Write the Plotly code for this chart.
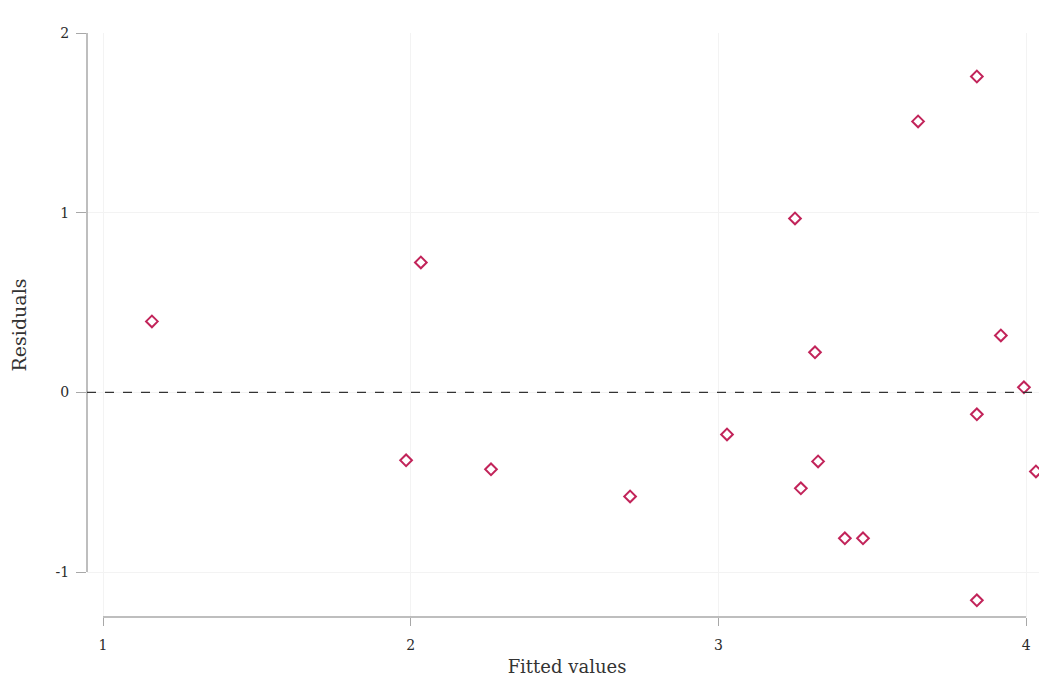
import plotly.graph_objects as go

fitted = [1.159, 2.033, 1.985, 2.261, 2.713, 3.028, 3.249, 3.268, 3.314, 3.324,
          3.411, 3.470, 3.649, 3.840, 3.840, 3.840, 3.918, 3.993, 4.032]
residuals = [0.395, 0.723, -0.378, -0.428, -0.579, -0.234, 0.968, -0.534, 0.223, -0.384,
             -0.812, -0.812, 1.508, 1.758, -0.122, -1.157, 0.317, 0.028, -0.440]
x_ticks = [1, 2, 3, 4]
x_labels = ["1", "2", "3", "4"]
y_ticks = [-1, 0, 1, 2]
y_labels = ["-1", "0", "1", "2"]

FONT = "DejaVu Serif"
fig = go.Figure()
fig.add_trace(go.Scatter(
    x=fitted, y=residuals, mode="markers", cliponaxis=False,
    marker=dict(symbol="diamond-open", size=9, color="#c2245a", line=dict(width=2, color="#c2245a")),
    showlegend=False,
))

axis_color = "#a8a8a8"
fig.update_layout(
    width=1039, height=680,
    margin=dict(l=79, r=0, t=25, b=71),
    paper_bgcolor="white", plot_bgcolor="white",
    font=dict(family=FONT, color="#333333"),
    xaxis=dict(range=[0.948, 4.068], tickvals=x_ticks, ticktext=x_labels, ticks="outside", ticklen=8,
               tickcolor=axis_color, showline=False, zeroline=False, automargin=False,
               showgrid=True, gridcolor="#f3f3f3", gridwidth=1, ticklabelstandoff=7,
               tickfont=dict(size=14, family=FONT, color="#2a2a2a"),
               title=dict(text="Fitted values", font=dict(size=18, family=FONT, color="#333333"), standoff=8)),
    yaxis=dict(range=[-1.25, 2.0], tickvals=y_ticks, ticktext=y_labels, ticks="outside", ticklen=10,
               tickcolor=axis_color, showline=False, zeroline=False, automargin=False,
               showgrid=True, gridcolor="#f3f3f3", gridwidth=1, ticklabelstandoff=4,
               tickfont=dict(size=14, family=FONT, color="#2a2a2a"),
               title=dict(text="Residuals", font=dict(size=19, family=FONT, color="#333333"), standoff=27)),
)

# Stata-style axis lines spanning tick range
fig.add_shape(type="line", xref="paper", yref="y", x0=0, x1=0, y0=min(y_ticks), y1=max(y_ticks),
              line=dict(color=axis_color, width=1.5))
fig.add_shape(type="line", xref="x", yref="paper", x0=min(x_ticks), x1=max(x_ticks), y0=0, y1=0,
              line=dict(color=axis_color, width=1.5))
# reference line at zero
fig.add_shape(type="line", xref="paper", yref="y", x0=0, x1=1, y0=0, y1=0,
              line=dict(color="#333333", width=1.2, dash="dash"))

fig.write_html("out.html")
